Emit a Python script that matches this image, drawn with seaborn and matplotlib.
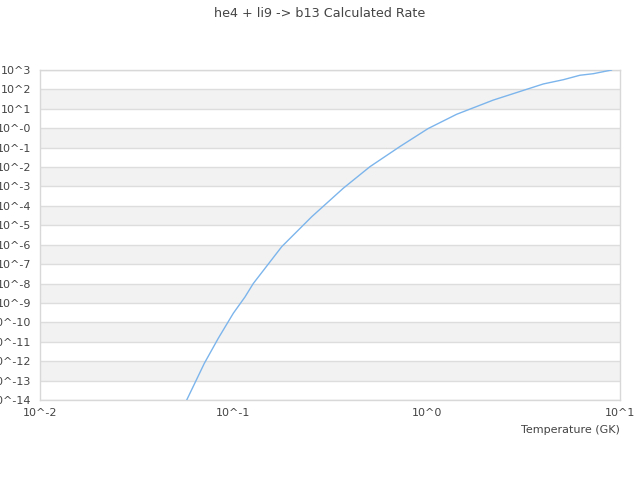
import numpy as np
import pandas as pd
import matplotlib
matplotlib.use("Agg")
import matplotlib.pyplot as plt
import seaborn as sb
from matplotlib.ticker import FixedLocator, NullLocator

# values
temperature = [0.0574, 0.0708, 0.0836, 0.100, 0.1149, 0.1268, 0.178, 0.2543,
               0.3705, 0.509, 0.728, 1.016, 1.43, 2.21, 4.01, 5.09, 6.21,
               7.28, 9.06]
log_rate = [-14.0, -12.11, -10.82, -9.53, -8.69, -8.0, -6.10, -4.56,
            -3.09, -1.98, -0.94, -0.02, 0.72, 1.45, 2.28, 2.50, 2.73,
            2.81, 3.0]
y_ticks = list(range(-14, 4))
y_labels = ["10^" + ("-0" if e == 0 else str(e)) for e in y_ticks]
x_ticks = [-2, -1, 0, 1]
x_labels = ["10^-2", "10^-1", "10^0", "10^1"]

df = pd.DataFrame({"T": temperature, "rate": [10.0 ** v for v in log_rate]})

sb.set_style("white")
plt.rcParams["font.family"] = ["DejaVu Sans"]

fig = plt.figure(figsize=(6.4, 4.8), dpi=100)
ax = fig.add_axes([40 / 640, 80 / 480, 580 / 640, 330 / 480])

# alternating bands
for i, e in enumerate(y_ticks[:-1]):
    if i % 2 == 1:
        ax.axhspan(10.0 ** e, 10.0 ** (e + 1), color="#f2f2f2", lw=0, zorder=0)
for e in y_ticks:
    ax.axhline(10.0 ** e, color="#dddddd", lw=1, zorder=1)

sb.lineplot(data=df, x="T", y="rate", ax=ax, color="#7cb5ec", lw=1, zorder=3)

ax.set_xscale("log")
ax.set_yscale("log")
ax.set_xlim(1e-2, 1e1)
ax.set_ylim(1e-14, 1e3)
ax.xaxis.set_major_locator(FixedLocator([10.0 ** e for e in x_ticks]))
ax.xaxis.set_minor_locator(NullLocator())
ax.yaxis.set_major_locator(FixedLocator([10.0 ** e for e in y_ticks]))
ax.yaxis.set_minor_locator(NullLocator())
ax.set_xticklabels(x_labels)
ax.set_yticklabels(y_labels)
ax.tick_params(axis="both", length=0, labelsize=8, labelcolor="#444444")
ax.tick_params(axis="y", pad=6)
ax.tick_params(axis="x", pad=6)

for s in ax.spines.values():
    s.set_color("#d8d8d8")
    s.set_linewidth(1)

ax.set_ylabel("")
ax.set_xlabel("Temperature (GK)", fontsize=8, color="#444444", labelpad=4)
ax.xaxis.set_label_coords(1.0, -0.075)
ax.xaxis.label.set_horizontalalignment("right")

fig.suptitle("he4 + li9 -> b13 Calculated Rate", fontsize=9.2, color="#444444", y=0.985)

plt.savefig("out.png", dpi=100)
